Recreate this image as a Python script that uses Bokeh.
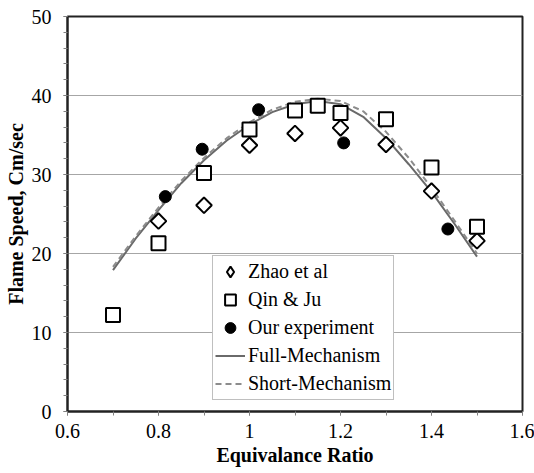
from bokeh.plotting import figure
from bokeh.models import Range1d, SingleIntervalTicker, CustomJSTickFormatter, Legend, LegendItem
from bokeh.embed import file_html
from bokeh.resources import INLINE

# Data
zhao_x = [0.80, 0.90, 1.00, 1.10, 1.20, 1.30, 1.40, 1.50]
zhao_y = [24.1, 26.1, 33.7, 35.2, 35.9, 33.8, 27.9, 21.6]

qin_x = [0.70, 0.80, 0.90, 1.00, 1.10, 1.15, 1.20, 1.30, 1.40, 1.50]
qin_y = [12.2, 21.3, 30.2, 35.7, 38.1, 38.7, 37.8, 37.0, 30.9, 23.4]

our_x = [0.815, 0.896, 1.02, 1.207, 1.436]
our_y = [27.2, 33.2, 38.2, 34.0, 23.1]

mech_x = [0.70, 0.75, 0.80, 0.85, 0.90, 0.95, 1.00, 1.05, 1.10, 1.15, 1.20, 1.25, 1.30, 1.35, 1.40, 1.45, 1.50]
full_y = [17.9, 21.9, 25.5, 28.9, 31.8, 34.3, 36.3, 37.9, 38.9, 39.3, 38.9, 37.3, 34.6, 31.3, 27.8, 23.8, 19.6]
short_y = [18.3, 22.2, 25.8, 29.2, 32.1, 34.6, 36.6, 38.2, 39.2, 39.6, 39.3, 38.0, 35.4, 32.1, 28.3, 24.2, 20.0]

FONT = "Liberation Serif"

p = figure(width=534, height=473, x_range=Range1d(0.6, 1.6), y_range=Range1d(0, 50),
           output_backend="svg", toolbar_location=None,
           min_border_left=67, min_border_right=12, min_border_top=16, min_border_bottom=62)

p.background_fill_color = "white"
p.border_fill_color = "white"
p.outline_line_color = "#222222"
p.outline_line_width = 2

p.xaxis.ticker = SingleIntervalTicker(interval=0.2, num_minor_ticks=2)
p.yaxis.ticker = SingleIntervalTicker(interval=10, num_minor_ticks=5)
p.xaxis.formatter = CustomJSTickFormatter(code="return Number(tick.toFixed(2)).toString();")

for ax in (p.xaxis, p.yaxis):
    ax.axis_line_color = "#222222"
    ax.axis_line_width = 2
    ax.major_tick_line_color = "#808080"
    ax.minor_tick_line_color = "#808080"
    ax.major_tick_in = 0
    ax.minor_tick_in = 0
    ax.major_tick_out = 4
    ax.minor_tick_out = 4
    ax.major_label_text_font = FONT
    ax.major_label_text_font_size = "20px"
    ax.major_label_text_color = "black"
    ax.axis_label_text_font = FONT
    ax.axis_label_text_font_size = "20px"
    ax.axis_label_text_font_style = "bold"
    ax.axis_label_text_color = "black"

p.xaxis.axis_label = "Equivalance Ratio"
p.yaxis.axis_label = "Flame Speed, Cm/sec"
p.xaxis.major_label_standoff = 8
p.yaxis.major_label_standoff = 12
p.xaxis.axis_label_standoff = 3
p.yaxis.axis_label_standoff = 2

p.xgrid.grid_line_color = None
p.ygrid.grid_line_color = "#a6a6a6"
p.ygrid.grid_line_width = 1

r_full = p.line(mech_x, full_y, line_color="#6a6a6a", line_width=2)
r_short = p.line(mech_x, short_y, line_color="#8c8c8c", line_width=2, line_dash="6 4")
# narrow diamond used for the legend icon; hidden under the rotated squares in the plot
r_zhao_leg = p.scatter(zhao_x, zhao_y, marker="diamond", size=11,
                       fill_color="white", line_color="black", line_width=2)
r_zhao = p.scatter(zhao_x, zhao_y, marker="square", angle=0.785398, size=11,
                   fill_color="white", line_color="black", line_width=2)
r_qin = p.scatter(qin_x, qin_y, marker="square", size=14,
                  fill_color="white", line_color="black", line_width=2)
r_our = p.scatter(our_x, our_y, marker="circle", size=12,
                  fill_color="black", line_color="black", line_width=1)

legend = Legend(items=[
    LegendItem(label="Zhao et al", renderers=[r_zhao_leg]),
    LegendItem(label="Qin & Ju", renderers=[r_qin]),
    LegendItem(label="Our experiment", renderers=[r_our]),
    LegendItem(label="Full-Mechanism", renderers=[r_full]),
    LegendItem(label="Short-Mechanism", renderers=[r_short]),
], location=(145, 11))
legend.label_text_font = FONT
legend.label_text_font_size = "20px"
legend.label_text_color = "black"
legend.glyph_width = 30
legend.glyph_height = 27
legend.label_standoff = 3
legend.spacing = 1
legend.padding = 2
legend.margin = 0
legend.border_line_color = "#808080"
legend.border_line_width = 1
legend.background_fill_color = "white"
legend.background_fill_alpha = 1
p.add_layout(legend, "center")

open("out.html", "w").write(file_html(p, INLINE))
